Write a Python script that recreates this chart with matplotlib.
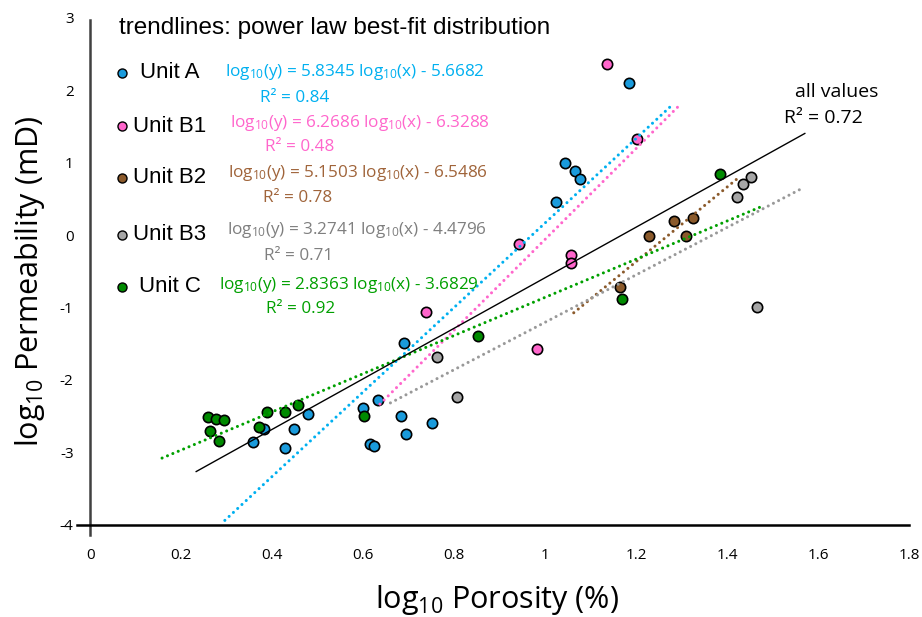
"""Log-log porosity vs permeability scatter with power-law trendlines."""
import matplotlib
matplotlib.use("Agg")
import matplotlib.pyplot as plt
import numpy as np

plt.rcParams["font.family"] = ["Open Sans", "DejaVu Sans"]
plt.rcParams["mathtext.fontset"] = "custom"
plt.rcParams["mathtext.rm"] = "Open Sans"
plt.rcParams["mathtext.it"] = "Open Sans:italic"
plt.rcParams["axes.unicode_minus"] = False

# data (log10 porosity, log10 permeability)
units = ["Unit A", "Unit B1", "Unit B2", "Unit B3", "Unit C"]

unit_a_x = [1.184, 1.044, 1.065, 1.076, 1.024, 0.690, 0.633, 0.599, 0.683, 0.752,
            0.694, 0.615, 0.623, 0.479, 0.449, 0.381, 0.357, 0.429]
unit_a_y = [2.10, 0.99, 0.88, 0.77, 0.456, -1.49, -2.28, -2.39, -2.50, -2.60,
            -2.75, -2.88, -2.92, -2.47, -2.68, -2.68, -2.86, -2.94]

unit_b1_x = [1.137, 1.201, 0.942, 1.058, 1.058, 0.738, 0.983]
unit_b1_y = [2.36, 1.33, -0.12, -0.27, -0.38, -1.06, -1.575]

unit_b2_x = [1.283, 1.326, 1.228, 1.310, 1.164]
unit_b2_y = [0.20, 0.24, -0.02, -0.02, -0.72]

unit_b3_x = [1.452, 1.435, 1.422, 1.466, 0.762, 0.806]
unit_b3_y = [0.80, 0.71, 0.52, -1.00, -1.68, -2.24]

unit_c_x = [1.385, 1.169, 0.853, 0.602, 0.258, 0.276, 0.294, 0.263, 0.283,
            0.388, 0.429, 0.456, 0.371]
unit_c_y = [0.84, -0.89, -1.40, -2.50, -2.52, -2.54, -2.56, -2.71, -2.84,
            -2.45, -2.45, -2.35, -2.65]

# trendlines as drawn: slope, intercept, x range
trend_slope = [5.8345, 6.2686, 5.1503, 3.2741, 2.636]
trend_icpt = [-5.6682, -6.3288, -6.5486, -4.4796, -3.497]
trend_xmin = [0.296, 0.637, 1.063, 0.660, 0.158]
trend_xmax = [1.2755, 1.295, 1.422, 1.559, 1.478]

all_slope, all_icpt = 3.49, -4.08
all_xmin, all_xmax = 0.233, 1.571

equations = [
    r"log$_{10}$(y) = 5.8345 log$_{10}$(x) - 5.6682",
    r"log$_{10}$(y) = 6.2686 log$_{10}$(x) - 6.3288",
    r"log$_{10}$(y) = 5.1503 log$_{10}$(x) - 6.5486",
    r"log$_{10}$(y) = 3.2741 log$_{10}$(x) - 4.4796",
    r"log$_{10}$(y) = 2.8363 log$_{10}$(x) - 3.6829",
]
r2_labels = ["R² = 0.84", "R² = 0.48", "R² = 0.78", "R² = 0.71", "R² = 0.92"]

x_ticks = [0, 0.2, 0.4, 0.6, 0.8, 1, 1.2, 1.4, 1.6, 1.8]
x_ticklabels = ["0", "0.2", "0.4", "0.6", "0.8", "1", "1.2", "1.4", "1.6", "1.8"]
y_ticks = [-4, -3, -2, -1, 0, 1, 2, 3]

marker_colors = ["#1A9BDC", "#FF66CC", "#8B5A2B", "#A6A6A6", "#008A00"]
line_colors = ["#00B0F0", "#FF66CC", "#8B5A2B", "#999999", "#00A000"]
text_colors = ["#00B0F0", "#FF66CC", "#A0643A", "#7F7F7F", "#00A000"]

xs = [unit_a_x, unit_b1_x, unit_b2_x, unit_b3_x, unit_c_x]
ys = [unit_a_y, unit_b1_y, unit_b2_y, unit_b3_y, unit_c_y]

W, H = 922, 617


def fpos(px, py):
    return px / W, 1 - py / H


fig = plt.figure(figsize=(W / 100, H / 100), dpi=100)
ax = fig.add_axes([72 / W, 1 - 535.5 / H, 837 / W, 517.7 / H])
ax.set_xlim(-0.04, 1.8)
ax.set_ylim(-4.15, 3.0)

for x, y, c in zip(xs, ys, marker_colors):
    ax.scatter(x, y, s=55, c=c, edgecolors="black", linewidths=1.2, zorder=3)

for i in range(5):
    lx = np.array([trend_xmin[i], trend_xmax[i]])
    ax.plot(lx, trend_slope[i] * lx + trend_icpt[i], color=line_colors[i],
            lw=2.2, linestyle=(0, (0.01, 1.9)), dash_capstyle="round", zorder=4)

lx = np.array([all_xmin, all_xmax])
ax.plot(lx, all_slope * lx + all_icpt, color="black", lw=1.0, zorder=4)

# axes crossing like the spreadsheet original
for s in ["top", "right"]:
    ax.spines[s].set_visible(False)
ax.spines["left"].set_position(("data", 0))
ax.spines["bottom"].set_position(("data", -4))
ax.spines["left"].set_bounds(-4.14, 2.97)
ax.spines["bottom"].set_bounds(-0.03, 1.8)
ax.spines["left"].set_color("#404040")
ax.spines["left"].set_linewidth(1.8)
ax.spines["bottom"].set_linewidth(1.8)

ax.set_xticks(x_ticks)
ax.set_xticklabels(x_ticklabels)
ax.set_yticks(y_ticks)
ax.tick_params(axis="x", length=0, pad=17, labelsize=11)
ax.tick_params(axis="y", length=0, pad=12, labelsize=11)

ax.set_xlabel(r"log$_{10}$ Porosity (%)", fontsize=22, va="center")
ax.xaxis.set_label_coords(0.508, -0.1246)
ax.set_ylabel(r"log$_{10}$ Permeability (mD)", fontsize=22, va="center")
ax.yaxis.set_label_coords(-0.0502, 0.4916)

fig.text(*fpos(119, 28), "trendlines: power law best-fit distribution",
         family="Liberation Sans", fontsize=17.5, va="center", ha="left")

legend_y = [73, 126, 178, 235, 287]
eq_x = [225, 230, 228, 227, 219]
eq_y = [72, 123, 173, 230, 285]
r2_x = [260, 265, 263, 264, 266]
r2_y = [98, 147, 198, 256, 309]
for i in range(5):
    fig.lines.append(plt.Line2D([121.5 / W], [1 - legend_y[i] / H], marker="o",
                                ms=6.5, mfc=marker_colors[i], mec="black",
                                mew=1.0, transform=fig.transFigure))
    fig.text(*fpos(170, legend_y[i]), units[i], family="Liberation Sans",
             fontsize=16, ha="center", va="center")
    fig.text(*fpos(eq_x[i], eq_y[i]), equations[i], color=text_colors[i],
             fontsize=12.3, ha="left", va="center")
    fig.text(*fpos(r2_x[i], r2_y[i]), r2_labels[i], color=text_colors[i],
             fontsize=12.3, ha="left", va="center")

fig.text(*fpos(837, 92), "all values", fontsize=14, ha="center", va="center")
fig.text(*fpos(823, 118), "R² = 0.72", fontsize=14, ha="center", va="center")

fig.savefig("out.png", dpi=100)
